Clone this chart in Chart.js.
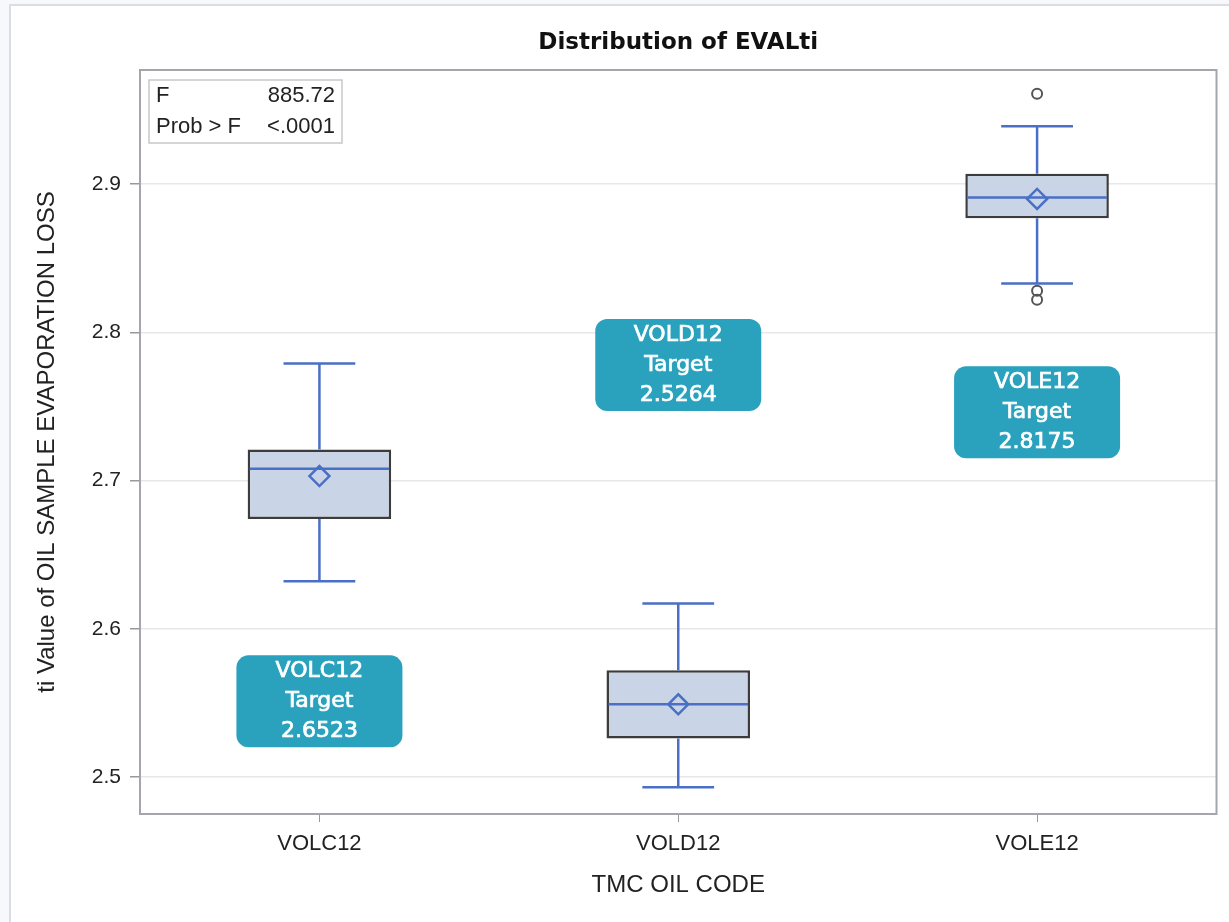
<!DOCTYPE html>
<html>
<head>
<meta charset="utf-8">
<script src="https://cdn.jsdelivr.net/npm/chart.js@4"></script>
<style>
  html, body { margin: 0; padding: 0; background: #fff; }
  canvas { display: block; }
</style>
</head>
<body>
<canvas id="chart" width="1229" height="922"></canvas>
<script>
// tick labels and categories
const categories = ['VOLC12', 'VOLD12', 'VOLE12'];
const yTicks = [2.5, 2.6, 2.7, 2.8, 2.9];

// box plot summary per category
const whiskerLow = [2.632, 2.493, 2.833];
const q1 = [2.674, 2.526, 2.877];
const median = [2.708, 2.549, 2.891];
const q3 = [2.721, 2.572, 2.907];
const whiskerHigh = [2.779, 2.617, 2.939];
const means = [2.703, 2.549, 2.890];
const outlierCats = ['VOLE12', 'VOLE12', 'VOLE12'];
const outlierVals = [2.961, 2.828, 2.822];

// annotation targets
const targets = ['2.6523', '2.5264', '2.8175'];
const statNames = ['F', 'Prob > F'];
const statVals = ['885.72', '<.0001'];

// where the target callouts sit (value units)
const targetAnchorY = [2.551, 2.778, 2.746];

const blue = '#4a6fc6';
const axisFont = '"Liberation Sans", Arial, sans-serif';

const boxParts = {
  id: 'boxParts',
  beforeDraw(chart) {
    const c = chart.ctx;
    c.save();
    c.fillStyle = '#f6f8fc';
    c.fillRect(0, 0, chart.width, chart.height);
    c.fillStyle = '#fff';
    c.fillRect(10, 5, chart.width - 10, chart.height - 5);
    c.strokeStyle = '#dcdde2';
    c.lineWidth = 2;
    c.beginPath();
    c.moveTo(10, chart.height);
    c.lineTo(10, 5);
    c.lineTo(chart.width, 5);
    c.stroke();
    c.restore();
  },
  afterDatasetsDraw(chart) {
    const c = chart.ctx;
    const x = chart.scales.x, y = chart.scales.y;
    const bars = chart.getDatasetMeta(2).data;
    c.save();
    categories.forEach((cat, i) => {
      const cx = x.getPixelForValue(i);
      const w = bars[i].width;
      const cap = w / 2;
      c.strokeStyle = blue;
      c.lineWidth = 2.5;
      c.beginPath();
      c.moveTo(cx, y.getPixelForValue(q3[i]));
      c.lineTo(cx, y.getPixelForValue(whiskerHigh[i]));
      c.moveTo(cx, y.getPixelForValue(q1[i]));
      c.lineTo(cx, y.getPixelForValue(whiskerLow[i]));
      c.moveTo(cx - cap / 2, y.getPixelForValue(whiskerHigh[i]));
      c.lineTo(cx + cap / 2, y.getPixelForValue(whiskerHigh[i]));
      c.moveTo(cx - cap / 2, y.getPixelForValue(whiskerLow[i]));
      c.lineTo(cx + cap / 2, y.getPixelForValue(whiskerLow[i]));
      c.moveTo(cx - w / 2 + 2, y.getPixelForValue(median[i]));
      c.lineTo(cx + w / 2 - 2, y.getPixelForValue(median[i]));
      c.stroke();
    });

    // target callouts
    c.font = '22px "DejaVu Sans", sans-serif';
    c.textAlign = 'center';
    c.textBaseline = 'middle';
    c.lineWidth = 0.7;
    categories.forEach((cat, i) => {
      const cx = x.getPixelForValue(i);
      const cy = y.getPixelForValue(targetAnchorY[i]);
      c.fillStyle = '#2ba2bd';
      c.beginPath();
      c.roundRect(cx - 83, cy - 46, 166, 92, 12);
      c.fill();
      c.fillStyle = '#fff';
      c.strokeStyle = '#fff';
      [cat, 'Target', targets[i]].forEach((t, k) => {
        c.fillText(t, cx, cy + (k - 1) * 30);
        c.strokeText(t, cx, cy + (k - 1) * 30);
      });
    });

    // stats inset
    const a = chart.chartArea;
    c.fillStyle = '#fff';
    c.fillRect(a.left + 9, a.top + 10, 193, 63);
    c.strokeStyle = '#c8c8c8';
    c.lineWidth = 1.5;
    c.strokeRect(a.left + 9, a.top + 10, 193, 63);
    c.font = '22px ' + axisFont;
    c.fillStyle = '#222';
    statNames.forEach((n, k) => {
      const ty = a.top + 26 + k * 31;
      c.textAlign = 'left';
      c.fillText(n, a.left + 16, ty);
      c.textAlign = 'right';
      c.fillText(statVals[k], a.left + 195, ty);
    });
    c.restore();
  },
  afterDraw(chart) {
    const c = chart.ctx, a = chart.chartArea;
    c.save();
    c.strokeStyle = '#a3a6aa';
    c.lineWidth = 2;
    c.strokeRect(a.left, a.top, a.right - a.left, a.bottom - a.top);
    c.font = 'bold 23px "DejaVu Sans", sans-serif';
    c.fillStyle = '#111';
    c.textAlign = 'center';
    c.textBaseline = 'middle';
    c.fillText('Distribution of EVALti', (a.left + a.right) / 2, 43);
    c.restore();
  }
};

new Chart(document.getElementById('chart'), {
  type: 'bar',
  data: {
    labels: categories,
    datasets: [
      {
        type: 'line',
        label: 'Mean',
        data: means,
        showLine: false,
        pointStyle: 'rectRot',
        pointRadius: 10,
        pointBorderWidth: 2.5,
        pointBorderColor: blue,
        pointBackgroundColor: 'rgba(0,0,0,0)',
        order: 1
      },
      {
        type: 'line',
        label: 'Outliers',
        data: outlierCats.map((c, i) => ({ x: c, y: outlierVals[i] })),
        showLine: false,
        pointStyle: 'circle',
        pointRadius: 5,
        pointBorderWidth: 2,
        pointBorderColor: '#555',
        pointBackgroundColor: 'rgba(0,0,0,0)',
        order: 1
      },
      {
        label: 'Box',
        data: q1.map((v, i) => [v, q3[i]]),
        backgroundColor: '#c9d5e6',
        borderColor: '#3c3c3c',
        borderWidth: 2.5,
        borderSkipped: false,
        barPercentage: 0.4,
        categoryPercentage: 1,
        order: 3
      }
    ]
  },
  options: {
    responsive: false,
    animation: false,
    layout: { padding: { top: 70, right: 9, left: 0, bottom: 0 } },
    plugins: {
      legend: { display: false },
      title: { display: false },
      tooltip: { enabled: false }
    },
    scales: {
      x: {
        type: 'category',
        offset: true,
        afterFit: s => { s.height = 108; },
        grid: { drawOnChartArea: false, offset: false, tickLength: 8, tickColor: '#999' },
        border: { display: false },
        ticks: { color: '#222', padding: 9, font: { family: axisFont, size: 22 } },
        title: {
          display: true,
          text: 'TMC OIL CODE',
          color: '#222',
          padding: { top: 0, bottom: 22 },
          font: { family: axisFont, size: 24 }
        }
      },
      y: {
        min: 2.475,
        max: 2.977,
        afterFit: s => { s.width = 140; },
        afterBuildTicks: s => { s.ticks = yTicks.map(v => ({ value: v })); },
        grid: { color: '#e8e8e8', lineWidth: 1.5, tickLength: 10, tickColor: '#999' },
        border: { display: false },
        ticks: {
          color: '#222',
          padding: 9,
          font: { family: axisFont, size: 21 },
          callback: v => Number(v).toFixed(1)
        },
        title: {
          display: true,
          text: 'ti Value of OIL SAMPLE EVAPORATION LOSS',
          color: '#222',
          padding: { top: 33, bottom: 0 },
          font: { family: axisFont, size: 24 }
        }
      }
    }
  },
  plugins: [boxParts]
});
</script>
</body>
</html>
